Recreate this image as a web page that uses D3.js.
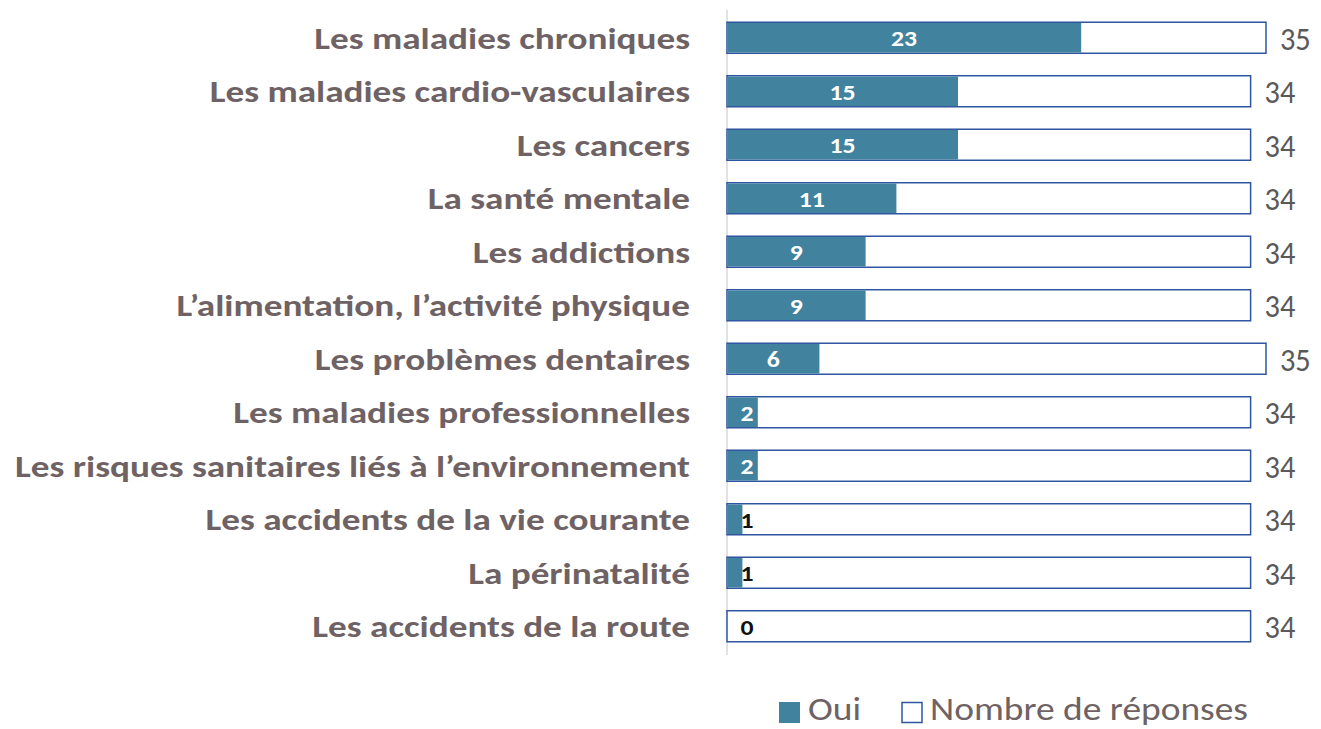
<!DOCTYPE html>
<html><head><meta charset="utf-8">
<script src="https://cdn.jsdelivr.net/npm/d3@7"></script>
<style>body{margin:0;background:#fff}svg{display:block}</style>
</head><body>
<script>
const categories = ["Les maladies chroniques","Les maladies cardio-vasculaires","Les cancers","La santé mentale","Les addictions","L’alimentation, l’activité physique","Les problèmes dentaires","Les maladies professionnelles","Les risques sanitaires liés à l’environnement","Les accidents de la vie courante","La périnatalité","Les accidents de la route"];
const oui = [23,15,15,11,9,9,6,2,2,1,1,0];
const reponses = [35,34,34,34,34,34,35,34,34,34,34,34];
const seriesNames = ["Oui","Nombre de réponses"];

const W=1321,H=729;
const svg=d3.select("body").append("svg").attr("width",W).attr("height",H);
const x0=727;
const x=d3.scaleLinear().domain([0,35]).range([x0,1266]);
const y=d3.scaleBand().domain(categories).range([11,653]).paddingInner(0.42).paddingOuter(0.21);
const teal="#41829f", blue="#2f55a0", gray="#6e6264";
const font="Carlito,Lato,'Liberation Sans Narrow',sans-serif";
const data=categories.map((c,i)=>({c,o:oui[i],r:reponses[i]}));

svg.append("line").attr("x1",x0).attr("x2",x0).attr("y1",10).attr("y2",655).attr("stroke","#d9d9d9").attr("stroke-width",1.5);

svg.selectAll("rect.r").data(data).join("rect").attr("class","r")
 .attr("x",x(0)).attr("y",d=>y(d.c)).attr("width",d=>x(d.r)-x(0)).attr("height",y.bandwidth())
 .attr("fill","#fff").attr("stroke",blue).attr("stroke-width",1.5);
svg.selectAll("rect.o").data(data).join("rect").attr("class","o")
 .attr("x",x(0)+0.75).attr("y",d=>y(d.c)+0.75).attr("width",d=>Math.max(0,x(d.o)-x(0)-0.75)).attr("height",y.bandwidth()-1.5)
 .attr("fill",teal);

const sxIn=1.12;
svg.selectAll("text.ol").data(data).join("text").attr("class","ol")
 .attr("transform",`scale(${sxIn},1)`)
 .attr("x",d=>Math.max((x(0)+x(d.o))/2, x0+20)/sxIn).attr("y",d=>y(d.c)+y.bandwidth()/2).attr("dy","0.36em")
 .attr("text-anchor","middle").attr("font-family",font).attr("font-weight","bold").attr("font-size",23)
 .attr("fill",d=>d.o>=2?"#fff":"#111").text(d=>d.o);

const sxR=0.92;
svg.selectAll("text.rl").data(data).join("text").attr("class","rl")
 .attr("transform",`scale(${sxR},1)`)
 .attr("x",d=>(x(d.r)+14)/sxR).attr("y",d=>y(d.c)+y.bandwidth()/2).attr("dy","0.37em")
 .attr("font-family",font).attr("font-size",33).attr("fill","#595959").text(d=>d.r);

const sxL=1.2;
const yAxis=svg.append("g").attr("transform",`translate(${x0},0)`).call(d3.axisLeft(y).tickSize(0).tickPadding(37));
yAxis.select(".domain").remove();
yAxis.selectAll("text").attr("font-family",font).attr("font-weight","bold").attr("font-size",31).attr("fill",gray)
 .attr("dy","0.35em").attr("x",-37/sxL).attr("transform",`scale(${sxL},1)`);

const sxG=1.17;
const lg=svg.append("g");
lg.append("rect").attr("x",779).attr("y",702).attr("width",21).attr("height",21).attr("fill",teal);
lg.append("text").attr("transform",`scale(${sxG},1)`).attr("x",808/sxG).attr("y",720).attr("font-family",font).attr("font-size",32).attr("fill",gray).text(seriesNames[0]);
lg.append("rect").attr("x",902).attr("y",702.5).attr("width",20).attr("height",20).attr("fill","#fff").attr("stroke",blue).attr("stroke-width",1.5);
lg.append("text").attr("transform",`scale(${sxG},1)`).attr("x",930/sxG).attr("y",720).attr("font-family",font).attr("font-size",32).attr("fill",gray).text(seriesNames[1]);
</script>
</body></html>
